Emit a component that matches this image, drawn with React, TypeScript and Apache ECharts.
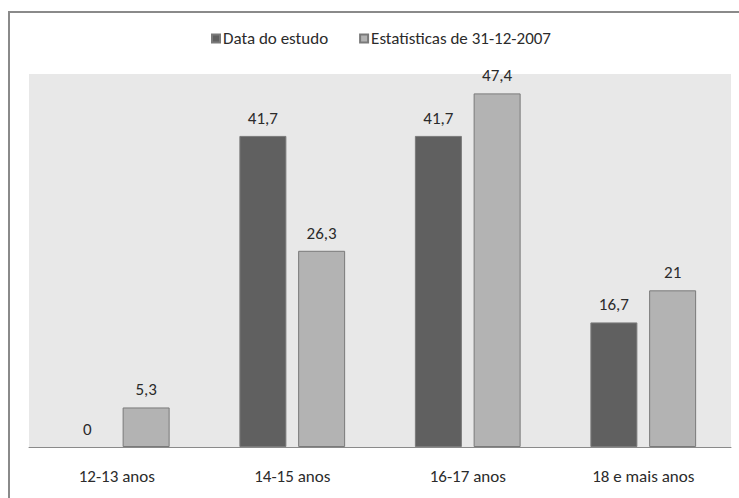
import React, { useEffect, useRef } from "react";
import * as echarts from "echarts";

const categories = ["12-13 anos", "14-15 anos", "16-17 anos", "18 e mais anos"];
const estudo = [0, 41.7, 41.7, 16.7];
const estatisticas = [5.3, 26.3, 47.4, 21];
const seriesNames = ["Data do estudo", "Estatísticas de 31-12-2007"];

const FONT = "Carlito, Lato, sans-serif";
const FONT_SIZE = 17;

// zero-height bars get no outline, so no stray line sits on the axis
const withOutline = (values: number[]) =>
  values.map((v) => (v === 0 ? { value: v, itemStyle: { borderWidth: 0 } } : v));

export default function App() {
  const ref = useRef<HTMLDivElement>(null);

  useEffect(() => {
    document.body.style.margin = "0";
    if (!ref.current) return;
    const chart = echarts.init(ref.current, null, { renderer: "svg" });
    const label = {
      show: true,
      position: "top",
      distance: 9,
      color: "#2b2b2b",
      fontSize: FONT_SIZE,
      fontFamily: FONT,
      formatter: (p: any) => String(p.value).replace(".", ","),
    };
    chart.setOption({
      animation: false,
      backgroundColor: "#ffffff",
      textStyle: { fontFamily: FONT },
      graphic: [
        {
          type: "rect",
          shape: { x: 9, y: 12, width: 760, height: 520 },
          style: { fill: "none", stroke: "#8a8a8a", lineWidth: 2 },
          silent: true,
        },
      ],
      legend: {
        top: 30,
        left: 211,
        padding: 0,
        itemWidth: 8,
        itemHeight: 8,
        itemGap: 31,
        icon: "rect",
        textStyle: { color: "#2b2b2b", fontSize: FONT_SIZE, fontFamily: FONT, padding: [0, 0, 0, -2] },
        data: seriesNames,
      },
      grid: {
        left: 29,
        right: 8,
        top: 74,
        bottom: 51,
        show: true,
        backgroundColor: "#e8e8e8",
        borderWidth: 0,
      },
      xAxis: {
        type: "category",
        data: categories,
        axisLine: { lineStyle: { color: "#8a8a8a", width: 1 } },
        axisTick: { show: false },
        axisLabel: { color: "#2b2b2b", fontSize: FONT_SIZE, fontFamily: FONT, margin: 21 },
      },
      yAxis: {
        type: "value",
        min: 0,
        max: 50,
        show: false,
        splitLine: { show: false },
      },
      series: [
        {
          name: seriesNames[0],
          type: "bar",
          data: withOutline(estudo),
          barWidth: 47,
          barGap: "25%",
          itemStyle: { color: "#606060", borderColor: "#7a7a7a", borderWidth: 1 },
          label,
        },
        {
          name: seriesNames[1],
          type: "bar",
          data: withOutline(estatisticas),
          barWidth: 47,
          itemStyle: { color: "#b3b3b3", borderColor: "#7a7a7a", borderWidth: 1 },
          label,
        },
      ],
    });
    return () => chart.dispose();
  }, []);

  return <div ref={ref} style={{ width: 739, height: 498 }} />;
}
